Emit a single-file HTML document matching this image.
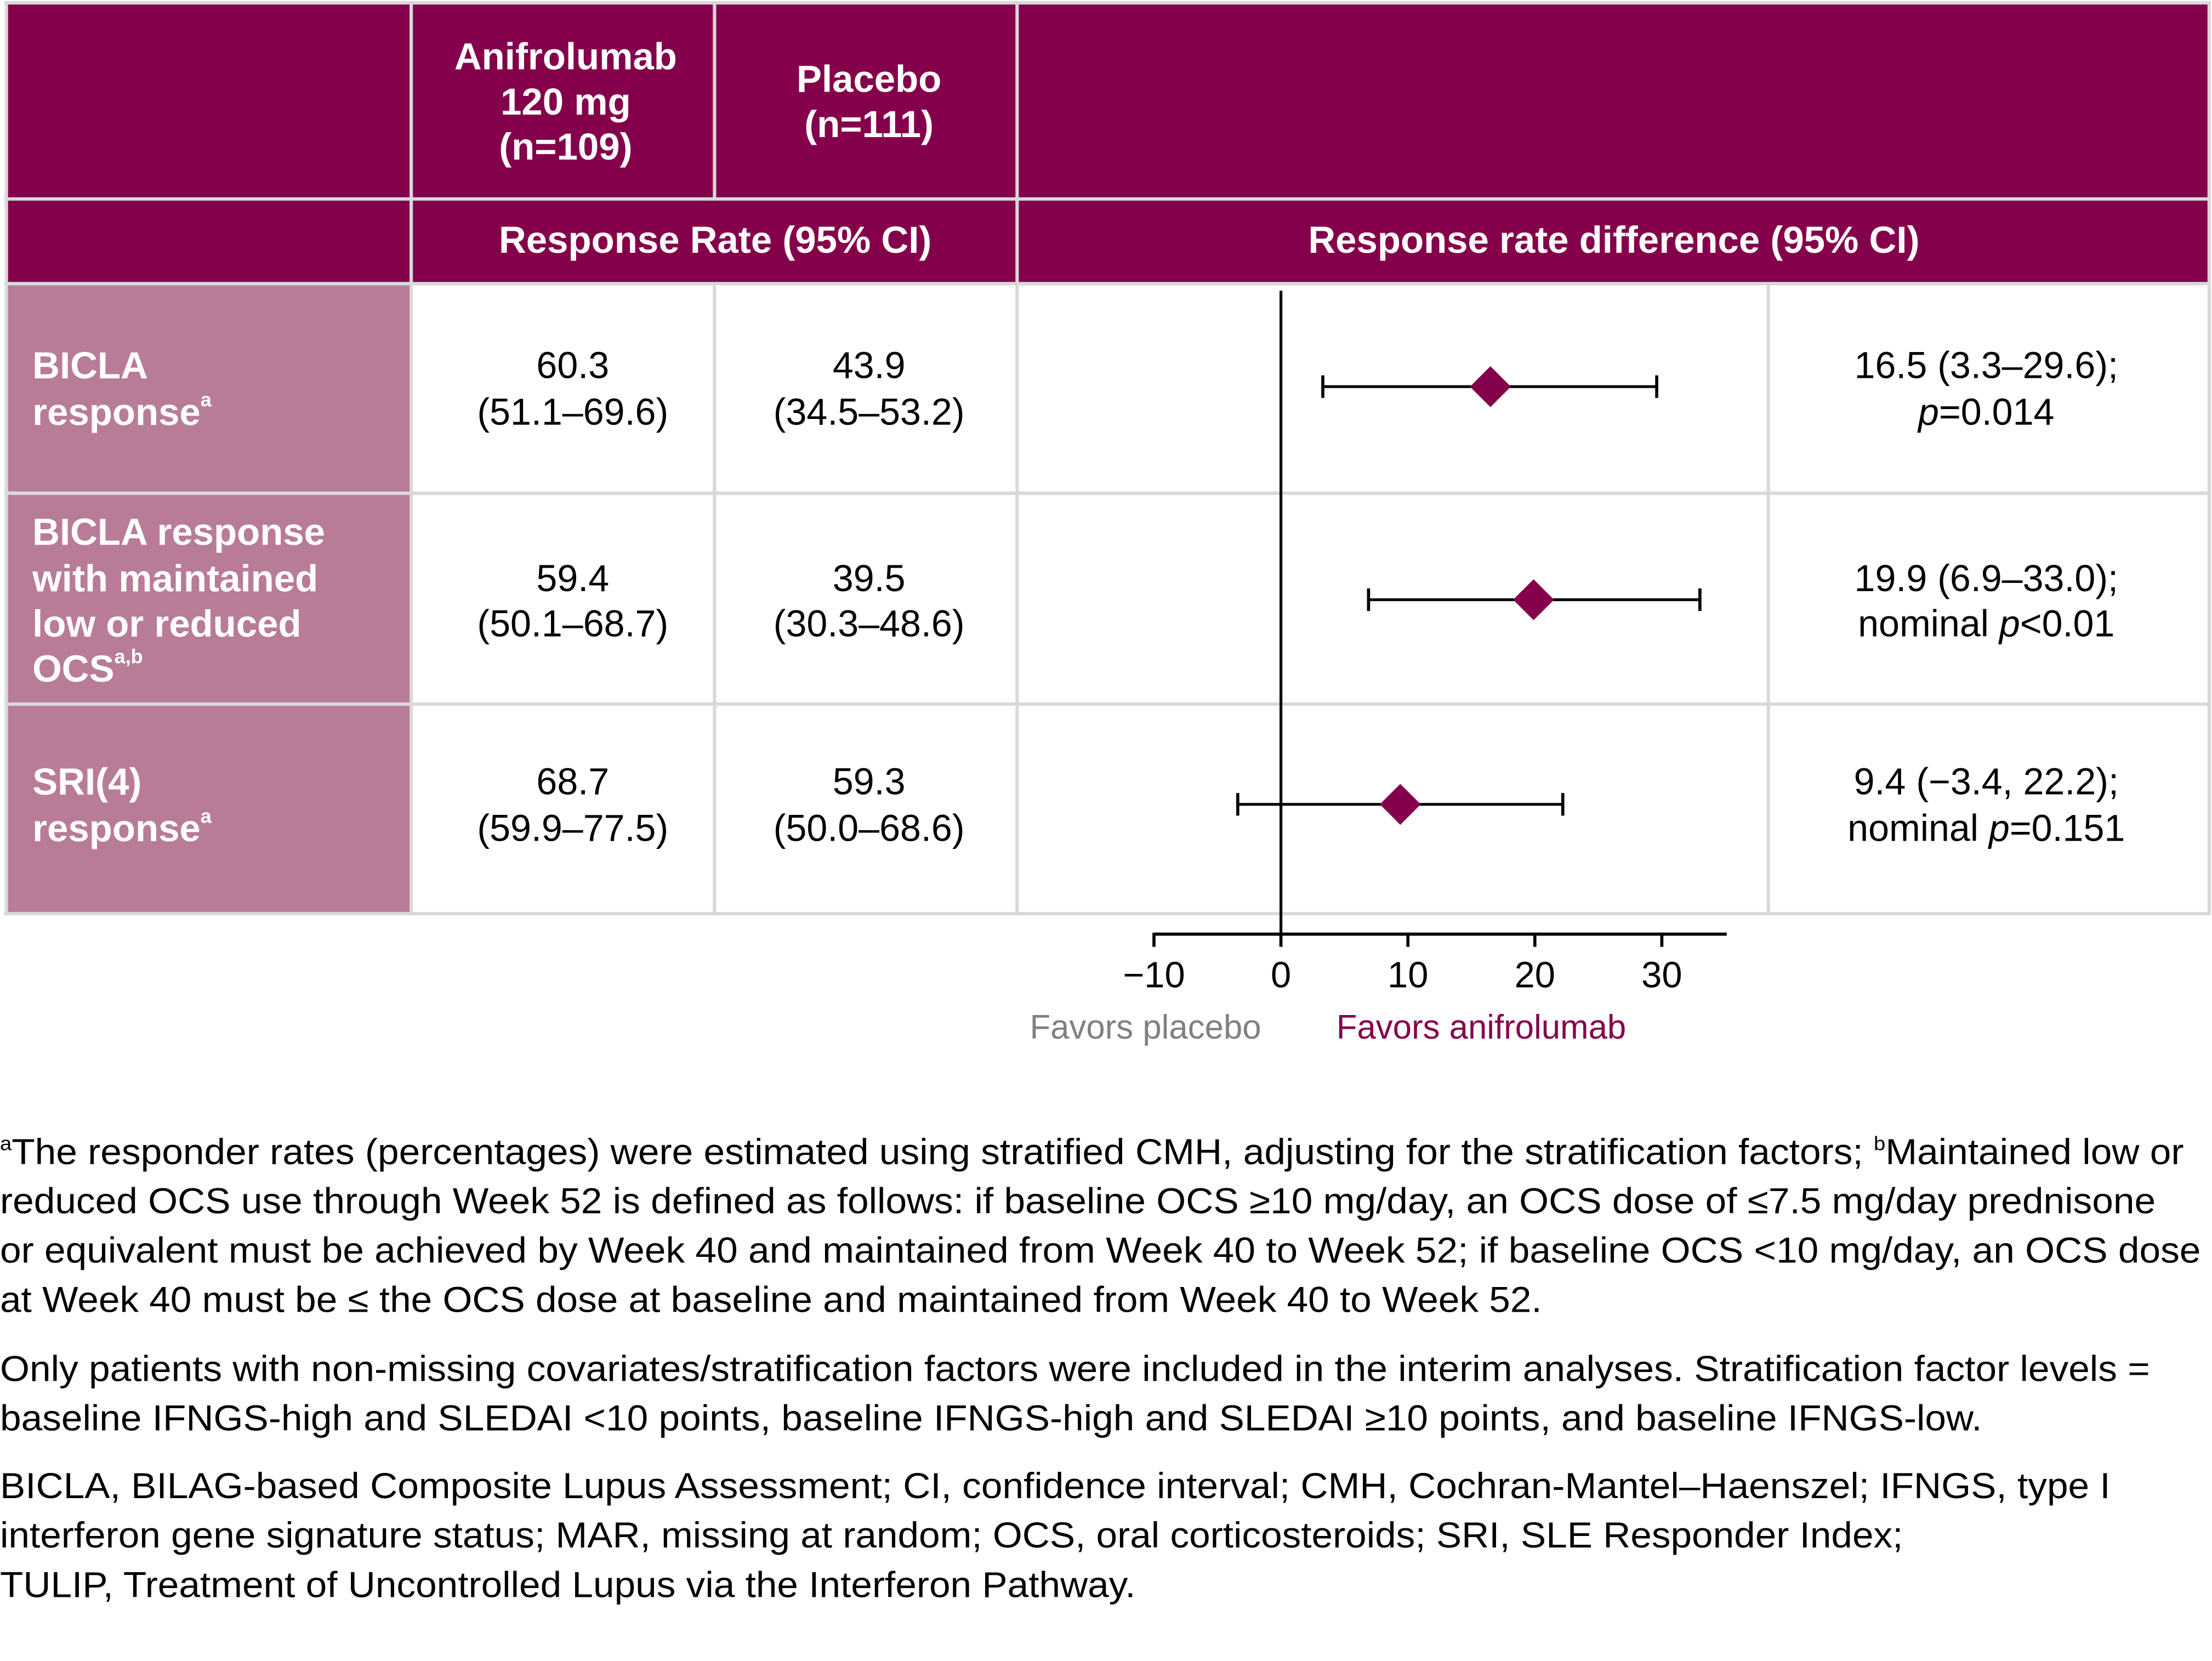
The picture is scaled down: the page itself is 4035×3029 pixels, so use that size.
<!DOCTYPE html>
<html><head><meta charset="utf-8"><style>
html,body{margin:0;padding:0;background:#fff}
svg{display:block}
text{font-family:"Liberation Sans",Arial,sans-serif}
.h{fill:#fff;font-weight:bold;font-size:26.8px}
.d{fill:#000;font-size:26.5px}
.f{fill:#000;font-size:25.5px}
</style></head><body>
<svg id="chart" width="4035" height="3029" viewBox="0 0 1568 1177.1" preserveAspectRatio="none" xmlns="http://www.w3.org/2000/svg">
<rect width="1568" height="1178" fill="#fff"/>
<g>
<rect x="4" y="2" width="1562" height="198" fill="#85004b"/>
</g>
<g>
<rect x="4" y="201" width="287" height="446" fill="#b87c98"/>
</g>
<g stroke="#d9d9d9" stroke-width="2.4" fill="none">
<line x1="3" y1="2" x2="1567" y2="2"/>
<line x1="3" y1="141" x2="1567" y2="141"/>
<line x1="3" y1="201" x2="1567" y2="201"/>
<line x1="3" y1="349.5" x2="1567" y2="349.5"/>
<line x1="3" y1="499" x2="1567" y2="499"/>
<line x1="3" y1="647.5" x2="1567" y2="647.5"/>
<line x1="4.5" y1="1" x2="4.5" y2="648"/>
<line x1="291.5" y1="1" x2="291.5" y2="648"/>
<line x1="506.5" y1="1" x2="506.5" y2="141"/>
<line x1="506.5" y1="201" x2="506.5" y2="648"/>
<line x1="721" y1="1" x2="721" y2="648"/>
<line x1="1253.5" y1="201" x2="1253.5" y2="648"/>
<line x1="1566" y1="1" x2="1566" y2="648"/>
</g>
<g text-anchor="middle" dominant-baseline="central">
<text class="h" x="401" y="40">Anifrolumab</text>
<text class="h" x="401" y="72">120 mg</text>
<text class="h" x="401" y="104">(n=109)</text>
<text class="h" x="616" y="56">Placebo</text>
<text class="h" x="616" y="88">(n=111)</text>
<text class="h" x="507" y="170">Response Rate (95% CI)</text>
<text class="h" x="1144" y="170">Response rate difference (95% CI)</text>
</g>
<g dominant-baseline="central">
<text class="h" x="23" y="259">BICLA</text>
<text class="h" x="23" y="292">response<tspan font-size="14" dy="-9">a</tspan></text>
<text class="h" x="23" y="377">BICLA response</text>
<text class="h" x="23" y="410">with maintained</text>
<text class="h" x="23" y="442">low or reduced</text>
<text class="h" x="23" y="474">OCS<tspan font-size="14" dy="-9">a,b</tspan></text>
<text class="h" x="23" y="554">SRI(4)</text>
<text class="h" x="23" y="587">response<tspan font-size="14" dy="-9">a</tspan></text>
</g>
<g text-anchor="middle" dominant-baseline="central">
<text class="d" x="406" y="259">60.3</text><text class="d" x="406" y="292">(51.1–69.6)</text>
<text class="d" x="616" y="259">43.9</text><text class="d" x="616" y="292">(34.5–53.2)</text>
<text class="d" x="406" y="410">59.4</text><text class="d" x="406" y="442">(50.1–68.7)</text>
<text class="d" x="616" y="410">39.5</text><text class="d" x="616" y="442">(30.3–48.6)</text>
<text class="d" x="406" y="554">68.7</text><text class="d" x="406" y="587">(59.9–77.5)</text>
<text class="d" x="616" y="554">59.3</text><text class="d" x="616" y="587">(50.0–68.6)</text>
</g>
<g text-anchor="middle" dominant-baseline="central">
<text class="d" x="1408" y="259">16.5 (3.3–29.6);</text>
<text class="d" x="1408" y="292"><tspan font-style="italic">p</tspan>=0.014</text>
<text class="d" x="1408" y="410">19.9 (6.9–33.0);</text>
<text class="d" x="1408" y="442">nominal <tspan font-style="italic">p</tspan>&lt;0.01</text>
<text class="d" x="1408" y="554">9.4 (−3.4, 22.2);</text>
<text class="d" x="1408" y="587">nominal <tspan font-style="italic">p</tspan>=0.151</text>
</g>
<g id="plot"></g>
<g text-anchor="middle" dominant-baseline="central">
<text x="812" y="728" font-size="24" fill="#808080">Favors placebo</text>
<text x="1050" y="728" font-size="24" fill="#85004b">Favors anifrolumab</text>
</g>
<g dominant-baseline="central">
<text class="f" x="0" y="816" textLength="1548" lengthAdjust="spacingAndGlyphs"><tspan font-size="14" dy="-6">a</tspan><tspan dy="6">The responder rates (percentages) were estimated using stratified CMH, adjusting for the stratification factors; </tspan><tspan font-size="14" dy="-6">b</tspan><tspan dy="6">Maintained low or</tspan></text>
<text class="f" x="0" y="851" textLength="1528" lengthAdjust="spacingAndGlyphs">reduced OCS use through Week 52 is defined as follows: if baseline OCS ≥10 mg/day, an OCS dose of ≤7.5 mg/day prednisone</text>
<text class="f" x="0" y="886" textLength="1560" lengthAdjust="spacingAndGlyphs">or equivalent must be achieved by Week 40 and maintained from Week 40 to Week 52; if baseline OCS &lt;10 mg/day, an OCS dose</text>
<text class="f" x="0" y="921" textLength="1093" lengthAdjust="spacingAndGlyphs">at Week 40 must be ≤ the OCS dose at baseline and maintained from Week 40 to Week 52.</text>
<text class="f" x="0" y="970" textLength="1524" lengthAdjust="spacingAndGlyphs">Only patients with non-missing covariates/stratification factors were included in the interim analyses. Stratification factor levels =</text>
<text class="f" x="0" y="1005" textLength="1405" lengthAdjust="spacingAndGlyphs">baseline IFNGS-high and SLEDAI &lt;10 points, baseline IFNGS-high and SLEDAI ≥10 points, and baseline IFNGS-low.</text>
<text class="f" x="0" y="1053" textLength="1496" lengthAdjust="spacingAndGlyphs">BICLA, BILAG-based Composite Lupus Assessment; CI, confidence interval; CMH, Cochran-Mantel–Haenszel; IFNGS, type I</text>
<text class="f" x="0" y="1088" textLength="1349" lengthAdjust="spacingAndGlyphs">interferon gene signature status; MAR, missing at random; OCS, oral corticosteroids; SRI, SLE Responder Index;</text>
<text class="f" x="0" y="1123" textLength="805" lengthAdjust="spacingAndGlyphs">TULIP, Treatment of Uncontrolled Lupus via the Interferon Pathway.</text>
</g>
</svg>
<script>
const outcomes = ["BICLA response", "BICLA with maintained low/reduced OCS", "SRI(4) response"];
const estimates = [16.5, 19.9, 9.4];
const lowerCI = [3.3, 6.9, -3.4];
const upperCI = [29.6, 33.0, 22.2];
const tickValues = [-10, 0, 10, 20, 30];
const tickLabels = ["−10", "0", "10", "20", "30"];

const NS = "http://www.w3.org/2000/svg";
const g = document.getElementById("plot");
const xScale = v => 908 + v * 9.0;
const rowY = i => [274, 425, 570][i];
function mk(tag, attrs) {
  const e = document.createElementNS(NS, tag);
  for (const k in attrs) e.setAttribute(k, attrs[k]);
  g.appendChild(e);
  return e;
}
let z = mk("line", {x1: xScale(0), x2: xScale(0), y1: 206, y2: 662, stroke: "#000", "stroke-width": 2});


let ax = mk("line", {x1: xScale(-10), x2: 1224, y1: 662, y2: 662, stroke: "#000", "stroke-width": 2.2});


tickValues.forEach((v, i) => {
  const t = mk("line", {x1: xScale(v), x2: xScale(v), y1: 661, y2: 671, stroke: "#000", "stroke-width": 2.2});
  
  
  const l = mk("text", {x: xScale(v), y: 691, "text-anchor": "middle", "dominant-baseline": "central", "font-size": 26, fill: "#000"});
  l.textContent = tickLabels[i];
  
  
});
estimates.forEach((e, i) => {
  const y = rowY(i);
  const ci = mk("line", {x1: xScale(lowerCI[i]), x2: xScale(upperCI[i]), y1: y, y2: y, stroke: "#000", "stroke-width": 2});
  
  
  [lowerCI[i], upperCI[i]].forEach(v => {
    const c = mk("line", {x1: xScale(v), x2: xScale(v), y1: y - 8, y2: y + 8, stroke: "#000", "stroke-width": 2.2});
    
    
  });
  const x = xScale(e), s = 14.5;
  const d = mk("polygon", {points: `${x},${y - s} ${x + s},${y} ${x},${y + s} ${x - s},${y}`, fill: "#85004b"});
  
  
});
</script>
</body></html>
